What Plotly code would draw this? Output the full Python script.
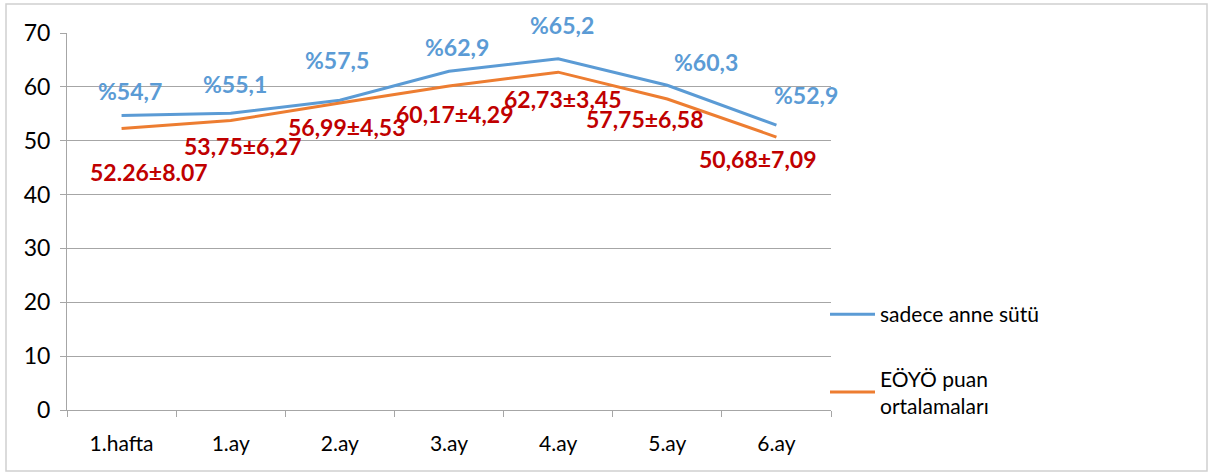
import plotly.graph_objects as go

categories = ["1.hafta", "1.ay", "2.ay", "3.ay", "4.ay", "5.ay", "6.ay"]
anne_sutu = [54.7, 55.1, 57.5, 62.9, 65.2, 60.3, 52.9]
eoyo_mean = [52.26, 53.75, 56.99, 60.17, 62.73, 57.75, 50.68]
anne_labels = ["%54,7", "%55,1", "%57,5", "%62,9", "%65,2", "%60,3", "%52,9"]
eoyo_labels = ["52.26±8.07", "53,75±6,27", "56,99±4,53", "60,17±4,29",
               "62,73±3,45", "57,75±6,58", "50,68±7,09"]
y_ticks = [0, 10, 20, 30, 40, 50, 60, 70]

# label offsets in pixels (style only)
blue_shift = [(8, 24), (4, 29), (-3, 40), (8, 24), (4, 34), (39, 23), (30, 30)]
red_shift = [(27, -43), (12, -25), (7, -24), (5, -28), (4, -27), (-23, -20), (-19, -22)]

BLUE = "#5b9bd5"
ORANGE = "#ed7d31"
RED = "#c00000"
FONT = "Lato, Carlito, Calibri, sans-serif"

fig = go.Figure()
fig.add_trace(go.Scatter(x=categories, y=anne_sutu, mode="lines", name="sadece anne sütü",
                         legendgroup="a", line=dict(color=BLUE, width=3)))
fig.add_trace(go.Scatter(x=categories, y=eoyo_mean, mode="lines", name="EÖYÖ puan<br>ortalamaları",
                         legendgroup="b", line=dict(color=ORANGE, width=3)))

annotations = []
for c, v, t, (dx, dy) in zip(categories, anne_sutu, anne_labels, blue_shift):
    annotations.append(dict(x=c, y=v, xref="x", yref="y", text=t, showarrow=False,
                            xshift=dx, yshift=dy,
                            font=dict(family=FONT, size=23, color=BLUE, weight="bold")))
for c, v, t, (dx, dy) in zip(categories, eoyo_mean, eoyo_labels, red_shift):
    annotations.append(dict(x=c, y=v, xref="x", yref="y", text=t, showarrow=False,
                            xshift=dx, yshift=dy,
                            font=dict(family=FONT, size=23, color=RED, weight="bold")))

W, H = 1212, 475
L, R, T, B = 67, 1212 - 831, 33, 475 - 410
pw, ph = W - L - R, H - T - B
def px2x(p):
    return (p - L) / pw
def py2y(p):
    return (H - B - p) / ph

fig.update_layout(
    width=W, height=H,
    margin=dict(l=L, r=R, t=T, b=B, autoexpand=False),
    paper_bgcolor="white", plot_bgcolor="white",
    font=dict(family=FONT, size=21, color="#000000"),
    showlegend=True,
    legend=dict(x=px2x(825), y=py2y(294), xanchor="left", yanchor="top",
                font=dict(family=FONT, size=21, color="#000000"),
                tracegroupgap=34, itemwidth=45, bgcolor="rgba(0,0,0,0)"),
    annotations=annotations,
    shapes=[dict(type="rect", xref="paper", yref="paper",
                 x0=px2x(6), x1=px2x(1207), y0=py2y(471), y1=py2y(4),
                 line=dict(color="#d0d0d0", width=1.5), layer="below")],
)
fig.update_xaxes(range=[-0.5, 6.5], showgrid=False, showline=True, linecolor="#a6a6a6",
                 linewidth=1, ticks="outside", ticklen=6, tickcolor="#a6a6a6",
                 tickson="boundaries", ticklabelstandoff=15, tickfont=dict(size=21))
fig.update_yaxes(range=[0, 70], tickvals=y_ticks, showgrid=True, gridcolor="#a6a6a6",
                 gridwidth=1, showline=True, linecolor="#a6a6a6", linewidth=1,
                 ticks="outside", ticklen=6, tickcolor="#a6a6a6",
                 ticklabelstandoff=5, tickfont=dict(size=23), zeroline=False)

fig.write_html("out.html", config={"displayModeBar": False},
               post_script="document.body.style.margin='0px';")
